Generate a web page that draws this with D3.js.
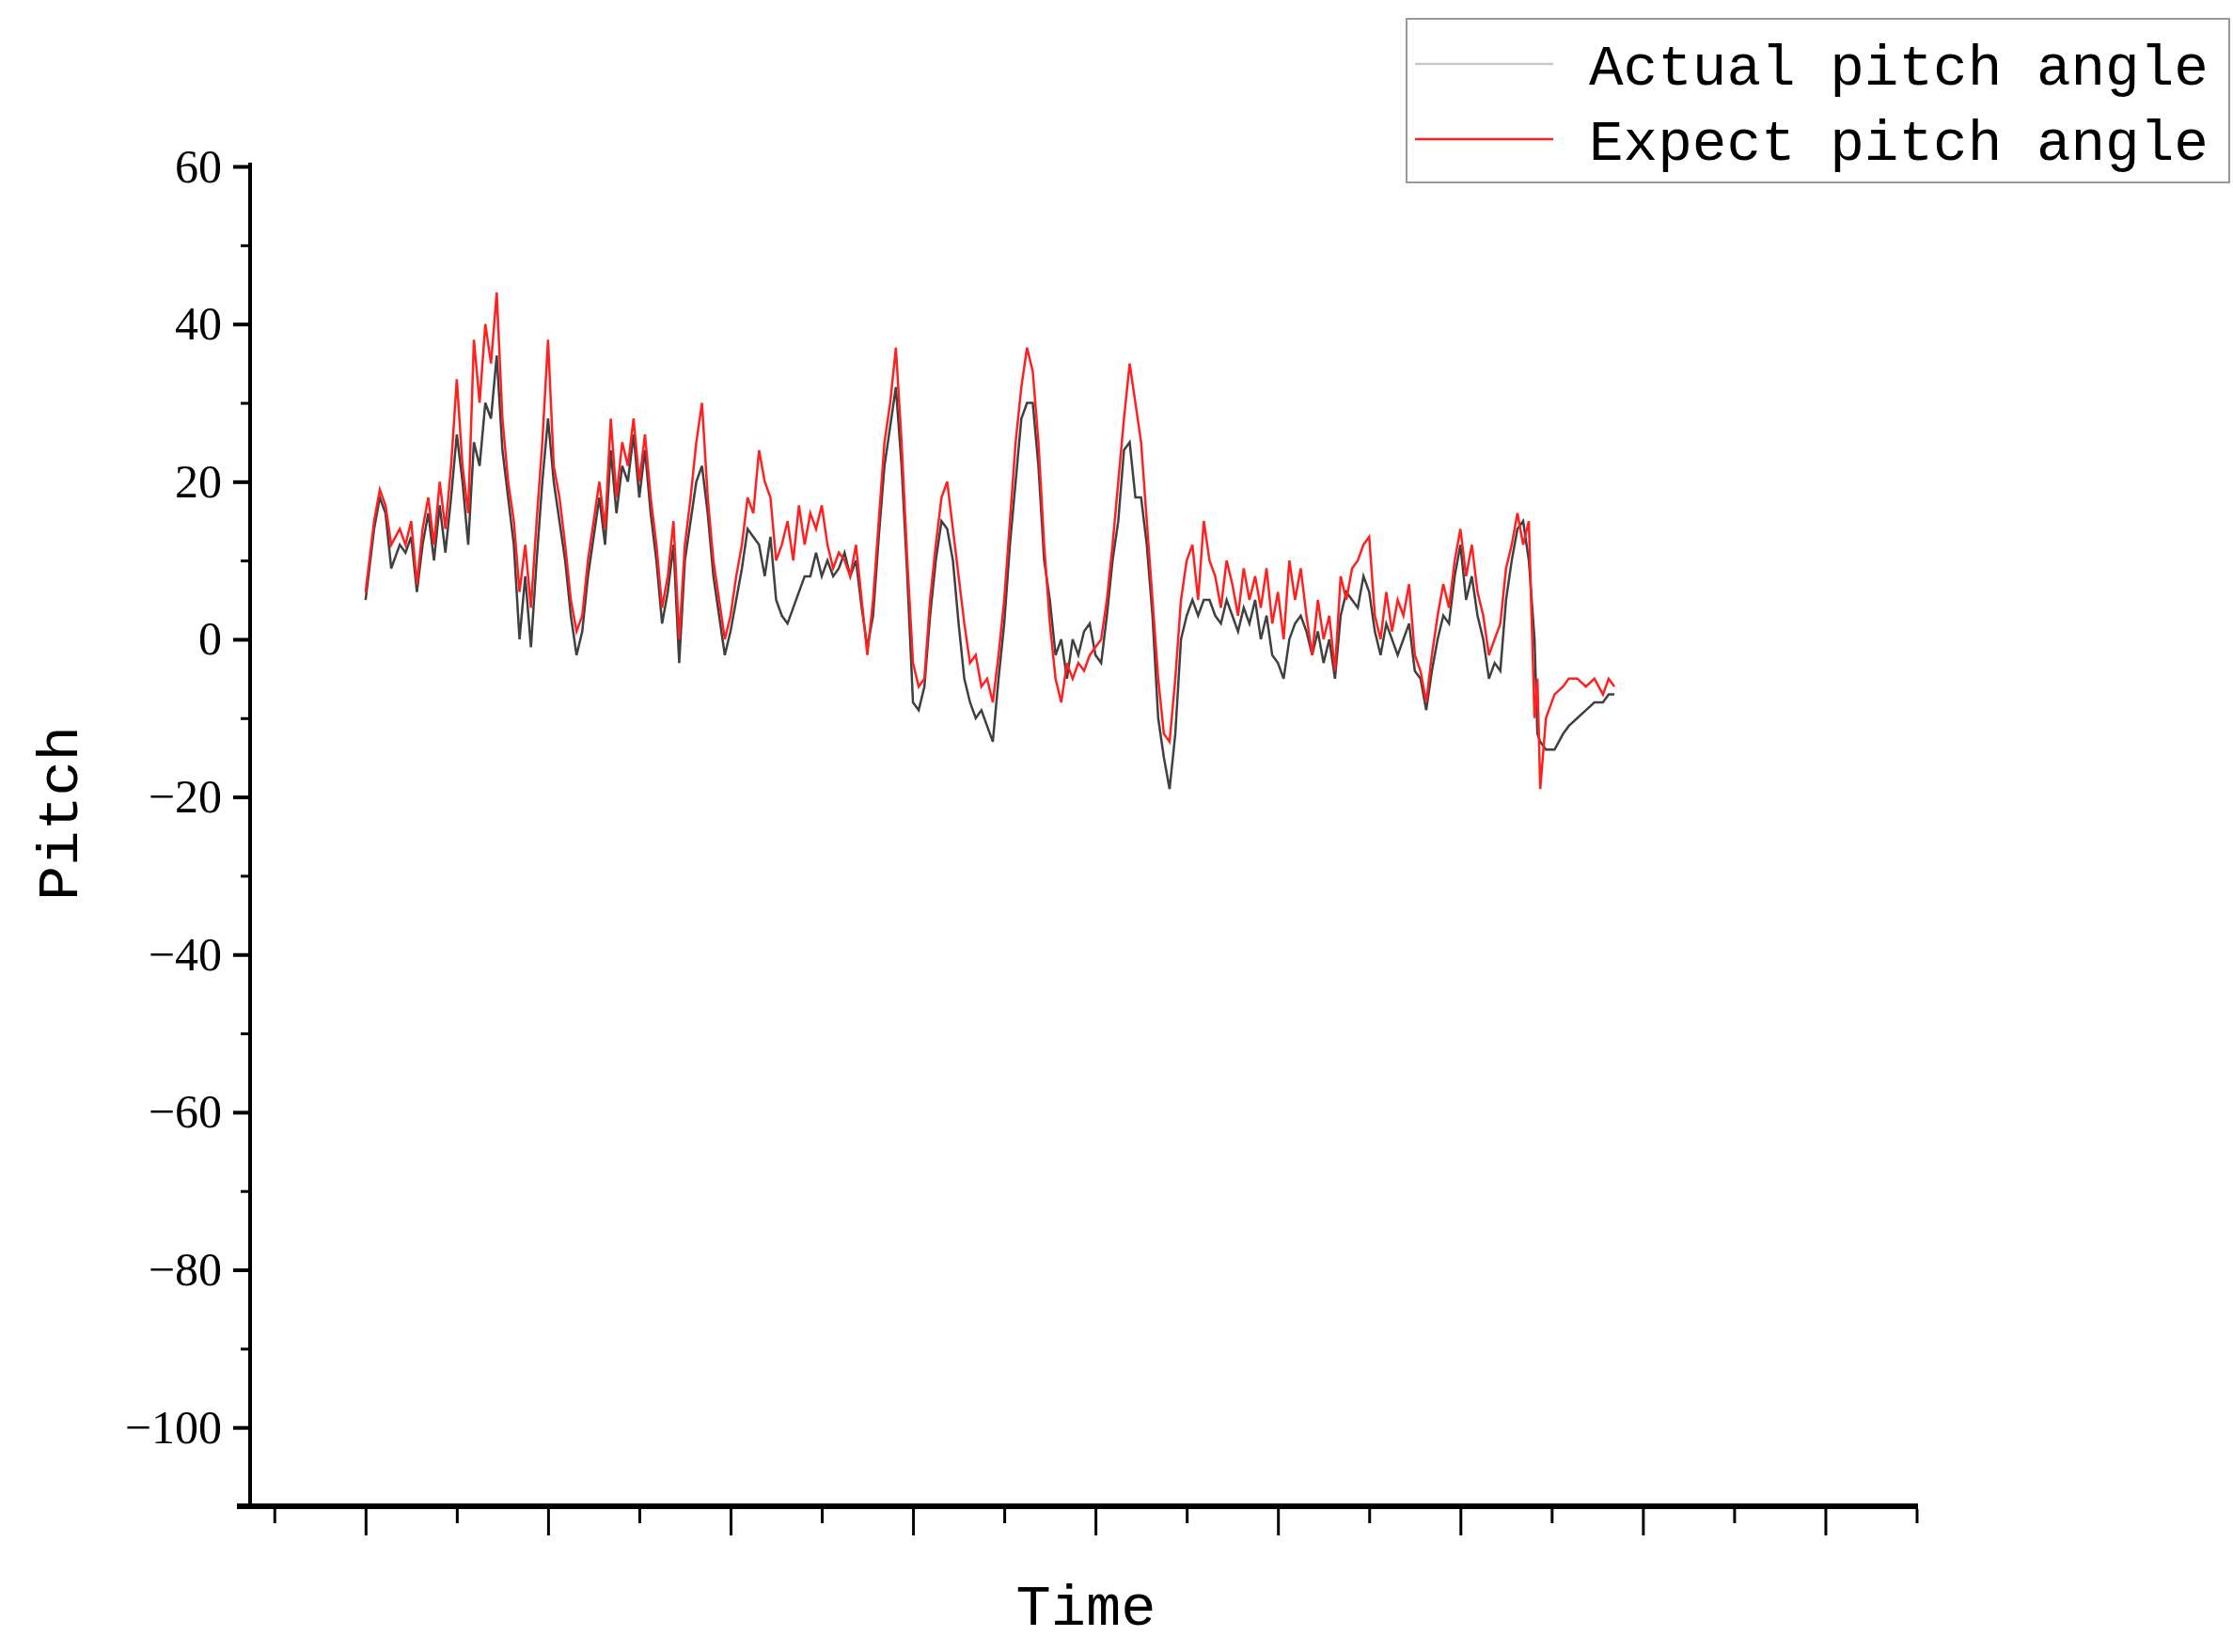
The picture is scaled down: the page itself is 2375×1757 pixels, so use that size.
<!DOCTYPE html>
<html><head><meta charset="utf-8">
<script src="https://cdn.jsdelivr.net/npm/d3@7"></script>
<style>body{margin:0;background:#fff}</style></head>
<body><svg id="c" width="2375" height="1757"></svg>
<script>
const time = [0,6,10,14,18,24,28,32,36,40,44,48,52,56,60,64,68,72,76,80,84,88,92,96,100,104,108,112,116,120,124,128,132,136,140,144,148,152,156,160,164,168,172,176,180,184,188,192,196,200,204,208,212,216,220,224,228,232,236,240,244,248,252,256,260,264,268,272,276,280,284,288,292,296,300,304,308,312,316,320,324,328,332,336,340,344,348,352,356,360,364,368,372,376,380,384,388,392,396,400,404,408,412,416,420,424,428,432,436,440,444,448,452,456,460,464,468,472,476,480,484,488,492,496,500,504,508,512,516,520,524,528,532,536,540,544,548,552,556,560,564,568,572,576,580,584,588,592,596,600,604,608,612,616,620,624,628,632,636,640,644,648,652,656,660,664,668,672,676,680,684,688,692,696,700,704,708,712,716,720,724,728,732,736,740,744,748,752,756,760,764,768,772,776,780,784,788,792,796,800,804,808,812,816,820,822,824,828,834,840,844,850,856,862,868,872,876];
const expectPitch = [6,15,19,17,12,14,12,15,7,14,18,12,20,14,22,33,22,16,38,30,40,35,44,28,20,15,6,12,4,15,25,38,22,18,12,5,1,3,10,15,20,14,28,18,25,22,28,20,26,18,12,4,8,15,0,12,18,25,30,18,10,5,0,3,8,12,18,16,24,20,18,10,12,15,10,17,12,16,14,17,12,9,11,10,8,12,5,-2,5,15,25,30,37,25,10,-3,-6,-5,5,12,18,20,14,8,2,-3,-2,-6,-5,-8,-2,5,15,25,32,37,34,25,12,2,-5,-8,-3,-5,-3,-4,-2,-1,0,5,12,20,28,35,30,25,15,5,-5,-12,-13,-5,5,10,12,5,15,10,8,4,10,7,3,9,5,8,4,9,2,6,0,10,5,9,3,-2,5,0,3,-4,8,5,9,10,12,13,3,0,6,1,5,3,7,-2,-4,-8,-2,3,7,4,10,14,8,12,6,3,-2,0,2,9,12,16,12,15,-10,-5,-19,-10,-7,-6,-5,-5,-6,-5,-7,-5,-6];
const actualPitch = [5,14,18,16,9,12,11,13,6,12,16,10,17,11,18,26,20,12,25,22,30,28,36,24,18,12,0,8,-1,10,20,28,20,15,10,3,-2,1,8,13,18,12,24,16,22,20,26,18,24,16,10,2,6,12,-3,10,15,20,22,16,8,3,-2,1,5,9,14,13,12,8,13,5,3,2,4,6,8,8,11,8,10,8,9,11,8,10,4,-1,3,13,22,27,32,22,8,-8,-9,-6,3,10,15,14,10,2,-5,-8,-10,-9,-11,-13,-5,2,12,20,28,30,30,22,10,5,-2,0,-5,0,-2,1,2,-2,-3,3,10,15,24,25,18,18,12,3,-10,-15,-19,-12,0,3,5,3,5,5,3,2,5,3,1,4,2,5,0,3,-2,-3,-5,0,2,3,1,-2,1,-3,0,-5,3,6,5,4,8,6,1,-2,2,0,-2,0,2,-4,-5,-9,-4,0,3,2,8,12,5,8,3,0,-5,-3,-4,5,10,14,15,10,0,-12,-13,-14,-14,-12,-11,-10,-9,-8,-8,-7,-7];
const yTicks = [60,40,20,0,-20,-40,-60,-80,-100];
const xMajor = [0,128,256,384,512,640,768,896,1024];
const xMinor = [-64,64,192,320,448,576,704,832,960,1088];
const legendLabels = ["Actual pitch angle","Expect pitch angle"];
const legendColors = ["#c8c8c8","#ff2020"];

const svg = d3.select("#c");
const L=266, R=2040, T=177, B=1602;
const x = d3.scaleLinear().domain([-81,1089]).range([L,R]);
const y = d3.scaleLinear().domain([-110,60]).range([B,T]);

// y axis
const ya = svg.append("g").attr("transform",`translate(${L},0)`)
  .call(d3.axisLeft(y).tickValues(yTicks).tickSize(18).tickSizeOuter(0).tickPadding(12)
    .tickFormat(d=> d<0 ? "\u2212"+Math.abs(d) : d));
ya.select(".domain").attr("stroke","#000").attr("stroke-width",4).attr("d",`M0,${T-4}V${B}`);
ya.selectAll(".tick line").attr("stroke-width",4);
ya.selectAll("text").attr("font-family","Liberation Serif").attr("font-size",50).attr("fill","#000");
svg.append("g").attr("transform",`translate(${L},0)`)
  .call(d3.axisLeft(y).tickValues(d3.range(-110,61,10).filter(v=>!yTicks.includes(v))).tickSize(10).tickFormat(""))
  .call(g=>{g.select(".domain").remove();g.selectAll("line").attr("stroke-width",3);});

// x axis
const xa = svg.append("g").attr("transform",`translate(0,${B})`)
  .call(d3.axisBottom(x).tickValues(xMajor).tickSize(28).tickFormat("").tickSizeOuter(0));
xa.select(".domain").attr("stroke-width",6).attr("d",`M${L-14},0H${R}`);
xa.selectAll(".tick line").attr("stroke-width",3).attr("transform","translate(0,3)");
svg.append("g").attr("transform",`translate(0,${B+3})`)
  .call(d3.axisBottom(x).tickValues(xMinor).tickSize(15).tickFormat(""))
  .call(g=>{g.select(".domain").remove();g.selectAll("line").attr("stroke-width",3);});

// lines
const line = arr => d3.line().x((d,i)=>x(time[i])).y(d=>y(d))(arr);
svg.append("path").attr("d",line(actualPitch)).attr("fill","none").attr("stroke","#404040").attr("stroke-width",2.5);
svg.append("path").attr("d",line(expectPitch)).attr("fill","none").attr("stroke","#ff2020").attr("stroke-width",2.5);

// labels
svg.append("text").attr("x",1155).attr("y",1728).attr("text-anchor","middle")
  .attr("font-family","Liberation Mono").attr("font-size",62).text("Time");
svg.append("text").attr("transform","translate(82,865) rotate(-90)").attr("text-anchor","middle")
  .attr("font-family","Liberation Mono").attr("font-size",62).text("Pitch");

// legend
svg.append("rect").attr("x",1496).attr("y",20).attr("width",875).attr("height",174)
  .attr("fill","#fff").attr("stroke","#999").attr("stroke-width",2);
legendLabels.forEach((t,i)=>{
  const yy = 68 + i*80;
  svg.append("line").attr("x1",1505).attr("x2",1652).attr("y1",yy).attr("y2",yy)
    .attr("stroke",legendColors[i]).attr("stroke-width",2.5);
  svg.append("text").attr("x",1690).attr("y",yy+22).attr("font-family","Liberation Mono")
    .attr("font-size",61).text(t);
});
</script></body></html>
